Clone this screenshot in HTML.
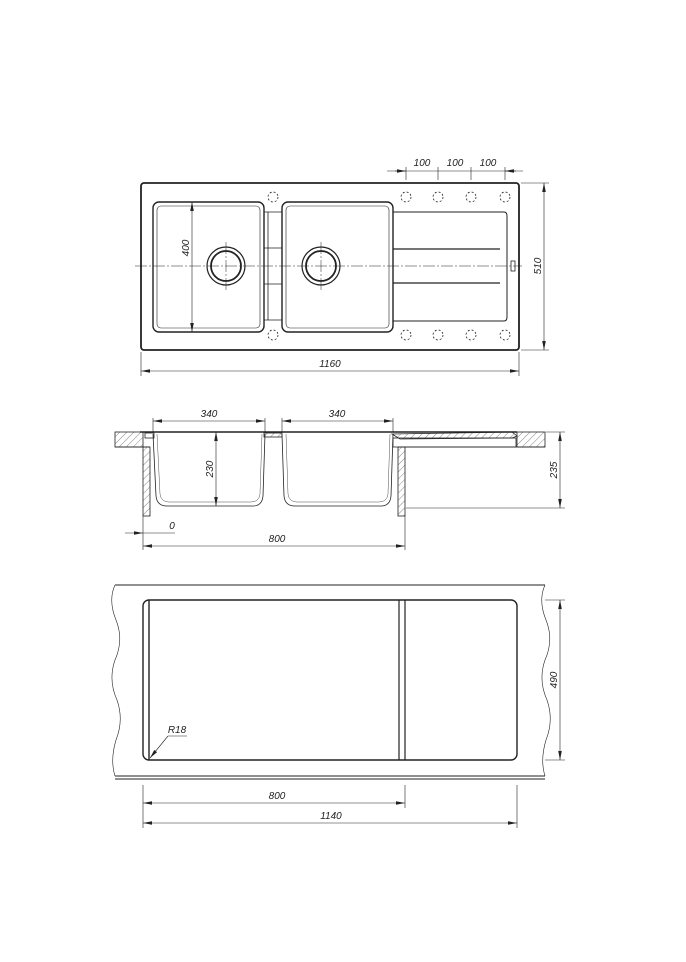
<!DOCTYPE html>
<html><head><meta charset="utf-8"><style>
html,body{margin:0;padding:0;background:#fff;}
svg{display:block;}
text{font-family:"Liberation Sans",sans-serif;font-style:italic;font-size:10px;fill:#222;}
</style></head><body>
<svg width="686" height="962" viewBox="0 0 686 962" xmlns="http://www.w3.org/2000/svg">
<defs>
<marker id="a" viewBox="0 0 10 4" refX="10" refY="2" markerUnits="userSpaceOnUse" markerWidth="9" markerHeight="3.6" orient="auto-start-reverse"><path d="M0,0 L10,2 L0,4 z" fill="#222"/></marker>
<pattern id="h" width="5" height="5" patternUnits="userSpaceOnUse" patternTransform="rotate(45)"><line x1="0" y1="0" x2="0" y2="5" stroke="#555" stroke-width="0.7"/></pattern>
</defs>
<g fill="none" stroke="#222" stroke-width="0.8">
<rect x="141" y="183" width="378" height="167" rx="3" stroke-width="1.8"/>
<rect x="153" y="202" width="111" height="130" rx="6" stroke-width="1.4"/>
<rect x="157" y="206" width="103" height="122" rx="4" stroke-width="0.6"/>
<rect x="282" y="202" width="111" height="130" rx="6" stroke-width="1.4"/>
<rect x="286" y="206" width="103" height="122" rx="4" stroke-width="0.6"/>
<path d="M393,212 H504 Q507,212 507,216 V317 Q507,321 504,321 H393" stroke-width="1"/>
<line x1="393" y1="249" x2="500" y2="249" stroke-width="1.2"/>
<line x1="393" y1="283" x2="500" y2="283" stroke-width="1.2"/>
<line x1="264" y1="212" x2="282" y2="212"/><line x1="264" y1="248" x2="282" y2="248"/>
<line x1="264" y1="284" x2="282" y2="284"/><line x1="264" y1="320" x2="282" y2="320"/>
<line x1="268" y1="212" x2="268" y2="320"/>
<rect x="511" y="261" width="4" height="10"/>
<g stroke-dasharray="2,2">
<circle cx="273" cy="197" r="5"/><circle cx="406" cy="197" r="5"/><circle cx="438" cy="197" r="5"/><circle cx="471" cy="197" r="5"/><circle cx="505" cy="197" r="5"/>
<circle cx="273" cy="335" r="5"/><circle cx="406" cy="335" r="5"/><circle cx="438" cy="335" r="5"/><circle cx="471" cy="335" r="5"/><circle cx="505" cy="335" r="5"/>
</g>
<circle cx="226" cy="266" r="19" stroke-width="1.2"/><circle cx="226" cy="266" r="15" stroke-width="1.8"/>
<circle cx="321" cy="266" r="19" stroke-width="1.2"/><circle cx="321" cy="266" r="15" stroke-width="1.8"/>
<g stroke-width="0.5" stroke-dasharray="12,2,2,2">
<line x1="135" y1="266" x2="522" y2="266"/>
<line x1="226" y1="242" x2="226" y2="291"/><line x1="321" y1="242" x2="321" y2="291"/>
</g>
<g stroke-width="0.6">
<line x1="387" y1="171" x2="523" y2="171"/>
<line x1="395" y1="171" x2="406" y2="171" marker-end="url(#a)"/>
<line x1="516" y1="171" x2="505" y2="171" marker-end="url(#a)"/>
<line x1="406" y1="167" x2="406" y2="180"/><line x1="438" y1="167" x2="438" y2="180"/>
<line x1="471" y1="167" x2="471" y2="180"/><line x1="505" y1="167" x2="505" y2="180"/>
<line x1="544" y1="183" x2="544" y2="350" marker-start="url(#a)" marker-end="url(#a)"/>
<line x1="521" y1="183" x2="549" y2="183"/><line x1="521" y1="350" x2="549" y2="350"/>
<line x1="141" y1="371" x2="519" y2="371" marker-start="url(#a)" marker-end="url(#a)"/>
<line x1="141" y1="352" x2="141" y2="376"/><line x1="519" y1="352" x2="519" y2="376"/>
<line x1="192" y1="202" x2="192" y2="332" marker-start="url(#a)" marker-end="url(#a)"/>
</g>
<rect x="115" y="432" width="28" height="15" fill="url(#h)"/>
<rect x="517" y="432" width="28" height="15" fill="url(#h)"/>
<line x1="140" y1="432" x2="517" y2="432" stroke-width="1.4"/>
<line x1="115" y1="447" x2="150" y2="447"/><line x1="405" y1="447" x2="545" y2="447"/>
<rect x="143" y="447" width="7" height="69" fill="url(#h)"/>
<rect x="398" y="447" width="7" height="69" fill="url(#h)"/>
<rect x="145" y="433" width="9" height="5"/>
<rect x="264" y="433" width="18" height="4" fill="url(#h)"/>
<path d="M153,434 L156,496 Q157,506 167,506 H253 Q262,506 263,496 L265,434"/>
<path d="M157,434 L160,494 Q161,502 169,502 H251 Q259,502 260,494 L262,434" stroke-width="0.4"/>
<path d="M282,434 L284,496 Q285,506 295,506 H381 Q390,506 391,496 L393,434"/>
<path d="M286,434 L288,494 Q289,502 297,502 H379 Q387,502 388,494 L390,434" stroke-width="0.4"/>
<path d="M392,434 L512,432 L517,436 L512,438 L400,439 Z" fill="url(#h)"/>
<rect x="393" y="438" width="123" height="9"/>
<g stroke-width="0.6">
<line x1="153" y1="421" x2="265" y2="421" marker-start="url(#a)" marker-end="url(#a)"/>
<line x1="153" y1="418" x2="153" y2="432"/><line x1="265" y1="418" x2="265" y2="432"/>
<line x1="282" y1="421" x2="393" y2="421" marker-start="url(#a)" marker-end="url(#a)"/>
<line x1="282" y1="418" x2="282" y2="432"/><line x1="393" y1="418" x2="393" y2="432"/>
<line x1="216" y1="432" x2="216" y2="506" marker-start="url(#a)" marker-end="url(#a)"/>
<line x1="560" y1="432" x2="560" y2="508" marker-start="url(#a)" marker-end="url(#a)"/>
<line x1="546" y1="432" x2="565" y2="432"/><line x1="406" y1="508" x2="565" y2="508"/>
<line x1="125" y1="533" x2="143" y2="533" marker-end="url(#a)"/>
<line x1="143" y1="533" x2="175" y2="533"/>
<line x1="143" y1="516" x2="143" y2="550"/><line x1="405" y1="516" x2="405" y2="550"/>
<line x1="143" y1="546" x2="405" y2="546" marker-start="url(#a)" marker-end="url(#a)"/>
</g>
<line x1="115" y1="585" x2="545" y2="585" stroke-width="1"/>
<line x1="115" y1="776" x2="545" y2="776" stroke-width="1"/>
<line x1="115" y1="779" x2="545" y2="779" stroke-width="1"/>
<path d="M115,585 Q108,600 116,620 Q124,640 115,660 Q108,680 117,700 Q124,720 116,740 Q110,760 115,776" stroke-width="0.6"/>
<path d="M545,585 Q538,600 546,620 Q554,640 545,660 Q538,680 547,700 Q554,720 546,740 Q540,760 545,776" stroke-width="0.6"/>
<rect x="143" y="600" width="374" height="160" rx="6" stroke-width="1.4"/>
<line x1="149" y1="600" x2="149" y2="760" stroke-width="1.4"/>
<line x1="399" y1="600" x2="399" y2="760" stroke-width="1.2"/>
<line x1="405" y1="600" x2="405" y2="760" stroke-width="1.2"/>
<g stroke-width="0.6">
<line x1="168" y1="736" x2="150" y2="758" marker-end="url(#a)"/>
<line x1="168" y1="736" x2="187" y2="736"/>
<line x1="560" y1="600" x2="560" y2="760" marker-start="url(#a)" marker-end="url(#a)"/>
<line x1="545" y1="600" x2="565" y2="600"/><line x1="545" y1="760" x2="565" y2="760"/>
<line x1="143" y1="785" x2="143" y2="828"/><line x1="405" y1="785" x2="405" y2="808"/><line x1="517" y1="785" x2="517" y2="828"/>
<line x1="143" y1="803" x2="405" y2="803" marker-start="url(#a)" marker-end="url(#a)"/>
<line x1="143" y1="823" x2="517" y2="823" marker-start="url(#a)" marker-end="url(#a)"/>
</g>
</g>
<text x="422" y="166" text-anchor="middle">100</text>
<text x="455" y="166" text-anchor="middle">100</text>
<text x="488" y="166" text-anchor="middle">100</text>
<text x="330" y="367" text-anchor="middle">1160</text>
<text transform="translate(541,266) rotate(-90)" text-anchor="middle">510</text>
<text transform="translate(189,248) rotate(-90)" text-anchor="middle">400</text>
<text x="209" y="417" text-anchor="middle">340</text>
<text x="337" y="417" text-anchor="middle">340</text>
<text transform="translate(213,469) rotate(-90)" text-anchor="middle">230</text>
<text transform="translate(557,470) rotate(-90)" text-anchor="middle">235</text>
<text x="172" y="529" text-anchor="middle">0</text>
<text x="277" y="542" text-anchor="middle">800</text>
<text x="177" y="733" text-anchor="middle">R18</text>
<text transform="translate(557,680) rotate(-90)" text-anchor="middle">490</text>
<text x="277" y="799" text-anchor="middle">800</text>
<text x="331" y="819" text-anchor="middle">1140</text>
</svg>
</body></html>
